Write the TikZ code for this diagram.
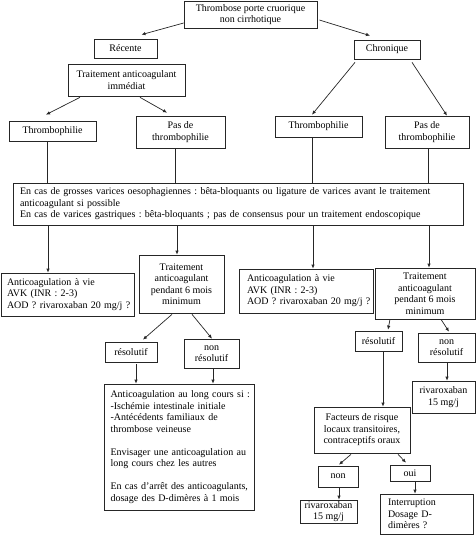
\documentclass[tikz,border=0pt]{standalone}
\usepackage{fontspec}
\setmainfont{Liberation Serif}
\usetikzlibrary{arrows.meta,calc}
\begin{document}
\begin{tikzpicture}[x=1pt,y=-1pt,
  bx/.style={draw=black!85, line width=0.7pt, inner sep=0pt, font=\fontsize{10}{11.5}\selectfont\frenchspacing, align=center},
  lbx/.style={bx, align=left},
  arr/.style={draw=black!85, line width=0.7pt, -{Latex[length=4pt,width=3.5pt]}},
  ln/.style={draw=black!85, line width=0.7pt}]
\useasboundingbox (0,0) rectangle (476,535);
% boxes
\node[bx, minimum width=133, minimum height=27] (top) at (250.5,14.5) {Thrombose porte cruorique\\non cirrhotique};
\node[bx, minimum width=63, minimum height=19] (rec) at (125.5,48.5) {Récente};
\node[bx, minimum width=66, minimum height=19] (chr) at (387,49.5) {Chronique};
\node[bx, minimum width=117, minimum height=32] (tai) at (126.5,80) {Traitement anticoagulant\\immédiat};
\node[bx, minimum width=87, minimum height=20] (th1) at (52.5,131) {Thrombophilie};
\node[bx, minimum width=89, minimum height=32] (pt1) at (180.5,132) {Pas de\\thrombophilie};
\node[bx, minimum width=87, minimum height=21] (th2) at (318.5,126.5) {Thrombophilie};
\node[bx, minimum width=84, minimum height=32] (pt2) at (427,132) {Pas de\\thrombophilie};
\node[lbx, text width=436pt, inner xsep=7pt, minimum height=42] (big) at (238,204) {\mbox{En cas de grosses varices oesophagiennes : bêta-bloquants ou ligature de varices avant le traitement}\\anticoagulant si possible\\\mbox{En cas de varices gastriques : bêta-bloquants ; pas de consensus pour un traitement endoscopique}};
\node[lbx, text width=121pt, inner xsep=6pt, minimum height=43] (ac1) at (67.5,294.5) {Anticoagulation à vie\\AVK (INR : 2-3)\\\mbox{AOD ? rivaroxaban 20 mg/j ?}};
\node[bx, minimum width=85, minimum height=58] (tr1) at (181.5,284) {Traitement\\anticoagulant\\pendant 6 mois\\minimum};
\node[lbx, text width=118pt, inner xsep=8pt, minimum height=44] (ac2) at (306,291) {Anticoagulation à vie\\AVK (INR : 2-3)\\\mbox{AOD ? rivaroxaban 20 mg/j ?}};
\node[bx, minimum width=100, minimum height=51] (tr2) at (425,293.5) {Traitement\\anticoagulant\\pendant 6 mois\\minimum};
\node[bx, minimum width=52, minimum height=20] (rs1) at (131,352) {résolutif};
\node[bx, minimum width=55, minimum height=29] (nr1) at (211.5,353.5) {non\\résolutif};
\node[lbx, text width=137pt, inner xsep=6.5pt, minimum height=126] (long) at (179,447) {\mbox{Anticoagulation au long cours si :}\\-Ischémie intestinale initiale\\-Antécédents familiaux de\\thrombose veineuse\\[11.5pt]\mbox{Envisager une anticoagulation au}\\long cours chez les autres\\[11.5pt]\mbox{En cas d’arrêt des anticoagulants,}\\dosage des D-dimères à 1 mois};
\node[bx, minimum width=47, minimum height=20] (rs2) at (378.5,341) {résolutif};
\node[bx, minimum width=57, minimum height=29] (nr2) at (446.5,347.5) {non\\résolutif};
\node[bx, minimum width=63, minimum height=32] (rv1) at (443.5,397) {rivaroxaban\\15 mg/j};
\node[bx, minimum width=96, minimum height=46] (fac) at (362,430) {Facteurs de risque\\locaux transitoires,\\contraceptifs oraux};
\node[bx, minimum width=40, minimum height=21] (non) at (338,476.5) {non};
\node[bx, minimum width=40, minimum height=16] (oui) at (410,473) {oui};
\node[bx, minimum width=57, minimum height=23] (rv2) at (328.5,511.5) {rivaroxaban\\15 mg/j};
\node[lbx, text width=77pt, inner xsep=8pt, minimum height=40] (int) at (426.5,514) {Interruption\\Dosage D-\\dimères ?};
% connectors
\draw[arr] ($(top.west)+(0,8.5)$) -- ($(rec.north)+(16,-4)$);
\draw[arr] ($(top.east)+(2,5.5)$) -- ($(chr.north)+(-17,-4)$);
\draw[arr] ($(tai.south)+(-46.5,1)$) -- ($(th1.north)+(-6.5,-6)$);
\draw[arr] ($(tai.south)+(13.5,1)$) -- ($(pt1.north)+(-13.5,-3)$);
\draw[arr] ($(chr.south)+(-32,3)$) -- ($(th2.north)+(-6.5,-1)$);
\draw[arr] ($(chr.south)+(25,3)$) -- ($(pt2.north)+(20,0)$);
\coordinate (v1) at ($(th1.south)+(-5.5,0)$); \draw[ln] (v1) -- (v1 |- big.north);
\coordinate (v2) at ($(pt1.south)+(-5.5,0)$); \draw[ln] (v2) -- (v2 |- big.north);
\coordinate (v3) at ($(th2.south)+(-6.5,0)$); \draw[ln] (v3) -- (v3 |- big.north);
\coordinate (v4) at ($(pt2.south)+(1,0)$); \draw[ln] (v4) -- (v4 |- big.north);
\coordinate (d1) at ($(ac1.north)+(-19.5,0)$); \draw[arr] (d1 |- big.south) -- (d1);
\coordinate (d2) at ($(tr1.north)+(-4.5,0)$); \draw[arr] (d2 |- big.south) -- (d2);
\coordinate (d3) at ($(ac2.north)+(7,0)$); \draw[arr] (d3 |- big.south) -- (d3);
\coordinate (d4) at ($(tr2.north)+(4,0)$); \draw[arr] (d4 |- big.south) -- (d4);
\draw[arr] ($(tr1.south)+(-9.5,1)$) -- ($(rs1.north)+(12,-2)$);
\draw[arr] ($(tr1.south)+(10.5,1)$) -- ($(nr1.north)+(0.5,0)$);
\coordinate (e1) at ($(rs1.south)+(5,2)$); \draw[arr] (e1) -- (e1 |- long.north);
\coordinate (e2) at ($(nr1.south)+(1.5,0)$); \draw[arr] (e2) -- (e2 |- long.north);
\draw[arr] ($(tr2.south)+(-35,0)$) -- ($(rs2.north)+(9.5,-1)$);
\draw[arr] ($(tr2.south)+(16,0)$) -- ($(nr2.north)+(2.5,-1)$);
\coordinate (e3) at ($(nr2.south)+(0.5,0)$); \draw[arr] (e3) -- (e3 |- rv1.north);
\coordinate (e4) at ($(rs2.south)+(4.5,0)$); \draw[arr] (e4) -- (e4 |- fac.north);
\draw[arr] ($(fac.south)+(-11,1)$) -- ($(non.north)+(1,-1)$);
\draw[arr] ($(fac.south)+(36,1)$) -- ($(oui.north)+(-4,-2)$);
\coordinate (e5) at ($(non.south)+(1,0)$); \draw[arr] (e5) -- (e5 |- rv2.north);
\coordinate (e6) at ($(oui.south)+(5,0)$); \draw[arr] (e6) -- (e6 |- int.north);
\end{tikzpicture}
\end{document}
